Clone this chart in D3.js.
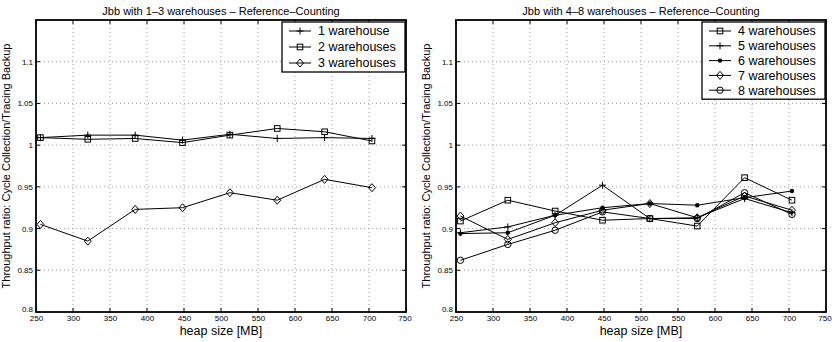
<!DOCTYPE html>
<html><head><meta charset="utf-8">
<script src="https://cdn.jsdelivr.net/npm/d3@7"></script>
<style>body{margin:0;background:#fff}svg{display:block;font-family:"Liberation Sans",Arial,sans-serif}</style>
</head><body><svg id="c" width="832" height="342"></svg>
<script>
const heapSizes = [256, 320, 384, 448, 512, 576, 640, 704];
const xTicks = [250, 300, 350, 400, 450, 500, 550, 600, 650, 700, 750];
const yTicks = [0.8, 0.85, 0.9, 0.95, 1, 1.05, 1.1];
const wh1 = [1.009, 1.012, 1.012, 1.006, 1.013, 1.008, 1.009, 1.008];
const wh2 = [1.009, 1.007, 1.008, 1.003, 1.012, 1.020, 1.016, 1.005];
const wh3 = [0.905, 0.885, 0.923, 0.925, 0.943, 0.934, 0.959, 0.949];
const wh4 = [0.909, 0.934, 0.921, 0.910, 0.912, 0.903, 0.961, 0.934];
const wh5 = [0.895, 0.902, 0.916, 0.952, 0.912, 0.913, 0.936, 0.919];
const wh6 = [0.894, 0.895, 0.916, 0.925, 0.930, 0.928, 0.937, 0.945];
const wh7 = [0.915, 0.887, 0.907, 0.922, 0.930, 0.913, 0.939, 0.922];
const wh8 = [0.862, 0.881, 0.898, 0.920, 0.912, 0.912, 0.943, 0.917];
const leftTitle = "Jbb with 1\u20133 warehouses \u2013 Reference\u2013Counting";
const rightTitle = "Jbb with 4\u20138 warehouses \u2013 Reference\u2013Counting";
const xLabel = "heap size [MB]";
const yLabel = "Throughput ratio: Cycle Collection/Tracing Backup";

const leftSeries = [
  {name: "1 warehouse", values: wh1, marker: "plus"},
  {name: "2 warehouses", values: wh2, marker: "square"},
  {name: "3 warehouses", values: wh3, marker: "diamond"}
];
const rightSeries = [
  {name: "4 warehouses", values: wh4, marker: "square"},
  {name: "5 warehouses", values: wh5, marker: "plus"},
  {name: "6 warehouses", values: wh6, marker: "dot"},
  {name: "7 warehouses", values: wh7, marker: "diamond"},
  {name: "8 warehouses", values: wh8, marker: "circle"}
];

const svg = d3.select("#c");

function drawMarker(g, type, x, y) {
  if (type === "plus") {
    g.append("path").attr("d", `M${x-3.5},${y}H${x+3.5}M${x},${y-3.5}V${y+3.5}`).attr("stroke", "#000").attr("stroke-width", 1);
  } else if (type === "square") {
    g.append("rect").attr("x", x-2.8).attr("y", y-2.8).attr("width", 5.6).attr("height", 5.6).attr("fill", "none").attr("stroke", "#000").attr("stroke-width", 1);
  } else if (type === "diamond") {
    g.append("path").attr("d", `M${x},${y-4}L${x+3.5},${y}L${x},${y+4}L${x-3.5},${y}Z`).attr("fill", "none").attr("stroke", "#000").attr("stroke-width", 1);
  } else if (type === "dot") {
    g.append("circle").attr("cx", x).attr("cy", y).attr("r", 2.2).attr("fill", "#000");
  } else if (type === "circle") {
    g.append("circle").attr("cx", x).attr("cy", y).attr("r", 3.2).attr("fill", "none").attr("stroke", "#000").attr("stroke-width", 1);
  }
}

function panel(x0, x1, title, series, legend) {
  const top = 20, bottom = 312;
  const x = d3.scaleLinear().domain([250, 750]).range([x0, x1]);
  const y = d3.scaleLinear().domain([0.8, 1.15]).range([bottom, top]);
  const g = svg.append("g");

  // grid
  g.selectAll(".gx").data(xTicks.slice(1, -1)).join("line")
    .attr("x1", d => x(d)).attr("x2", d => x(d)).attr("y1", top).attr("y2", bottom)
    .attr("stroke", "#888").attr("stroke-width", 0.8).attr("stroke-dasharray", "1,3");
  g.selectAll(".gy").data(yTicks.slice(1)).join("line")
    .attr("x1", x0).attr("x2", x1).attr("y1", d => y(d)).attr("y2", d => y(d))
    .attr("stroke", "#888").attr("stroke-width", 0.8).attr("stroke-dasharray", "1,3");

  // axes via d3
  const xAxis = d3.axisBottom(x).tickValues(xTicks).tickSize(0).tickPadding(3).tickFormat(d3.format("d"));
  const xa = g.append("g").attr("transform", `translate(0,${bottom})`).call(xAxis);
  xa.select(".domain").remove();
  xa.selectAll("text").attr("font-size", 8).attr("fill", "#000").attr("font-family", "Liberation Sans, Arial, sans-serif");
  xa.selectAll(".tick").filter(d => d === 750).select("text").attr("dx", "-1.5");

  const yAxis = d3.axisLeft(y).tickValues(yTicks).tickSize(0).tickPadding(3).tickFormat(d => String(+d.toFixed(2)));
  const ya = g.append("g").attr("transform", `translate(${x0},0)`).call(yAxis);
  ya.select(".domain").remove();
  ya.selectAll("text").attr("font-size", 8).attr("fill", "#000").attr("font-family", "Liberation Sans, Arial, sans-serif");
  ya.selectAll(".tick").filter(d => d === 0.8).select("text").attr("dy", "-0.1em");

  // inward ticks
  xTicks.forEach(t => {
    g.append("line").attr("x1", x(t)).attr("x2", x(t)).attr("y1", top).attr("y2", top + 4).attr("stroke", "#000");
    g.append("line").attr("x1", x(t)).attr("x2", x(t)).attr("y1", bottom).attr("y2", bottom - 4).attr("stroke", "#000");
  });
  yTicks.forEach(t => {
    g.append("line").attr("x1", x0).attr("x2", x0 + 4).attr("y1", y(t)).attr("y2", y(t)).attr("stroke", "#000");
    g.append("line").attr("x1", x1).attr("x2", x1 - 4).attr("y1", y(t)).attr("y2", y(t)).attr("stroke", "#000");
  });

  // box
  g.append("rect").attr("x", x0).attr("y", top).attr("width", x1 - x0).attr("height", bottom - top)
    .attr("fill", "none").attr("stroke", "#000").attr("stroke-width", 1.8);

  // series
  const line = d3.line().x((d, i) => x(heapSizes[i])).y(d => y(d));
  series.forEach(s => {
    g.append("path").datum(s.values).attr("d", line).attr("fill", "none").attr("stroke", "#000").attr("stroke-width", 1);
    s.values.forEach((v, i) => drawMarker(g, s.marker, x(heapSizes[i]), y(v)));
  });

  // title & labels
  g.append("text").attr("x", (x0 + x1) / 2).attr("y", 15).attr("text-anchor", "middle")
    .attr("font-size", 11).text(title);
  g.append("text").attr("x", (x0 + x1) / 2).attr("y", 335).attr("text-anchor", "middle")
    .attr("font-size", 12.5).text(xLabel);
  g.append("text").attr("transform", `translate(${x0 - 26},${(top + bottom) / 2}) rotate(-90)`)
    .attr("text-anchor", "middle").attr("font-size", 11).text(yLabel);

  // legend
  const lg = g.append("g");
  lg.append("rect").attr("x", legend.x).attr("y", legend.y).attr("width", legend.w)
    .attr("height", legend.rowH * (series.length - 1) + 18)
    .attr("fill", "#fff").attr("stroke", "#000").attr("stroke-width", 1.3);
  series.forEach((s, i) => {
    const ry = legend.y + 9 + i * legend.rowH;
    lg.append("line").attr("x1", legend.x + 7).attr("x2", legend.x + 29).attr("y1", ry).attr("y2", ry).attr("stroke", "#000");
    drawMarker(lg, s.marker, legend.x + 18, ry);
    lg.append("text").attr("x", legend.x + 36).attr("y", ry).attr("dy", "0.35em")
      .attr("font-size", 12.5).text(s.name);
  });
}

panel(36, 406, leftTitle, leftSeries, {x: 282, y: 22, w: 123, rowH: 16});
panel(456, 826, rightTitle, rightSeries, {x: 702, y: 22, w: 123, rowH: 14.8});
</script>
</body></html>
